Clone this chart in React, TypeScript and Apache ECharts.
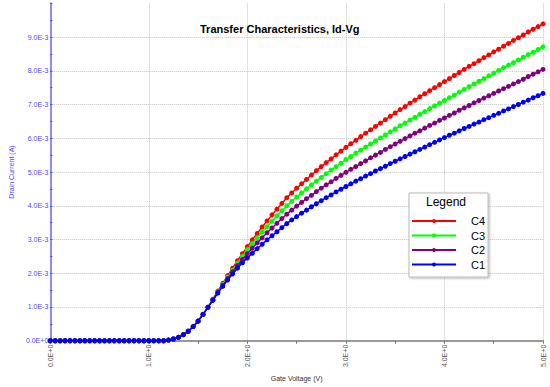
import React, { useEffect, useRef } from "react";
import * as echarts from "echarts";

// Gate voltage (V)
const gateVoltage = [
  0, 0.05, 0.1, 0.15, 0.2, 0.25, 0.3, 0.35, 0.4, 0.45,
  0.5, 0.55, 0.6, 0.65, 0.7, 0.75, 0.8, 0.85, 0.9, 0.95,
  1.0, 1.05, 1.1, 1.15, 1.2, 1.25, 1.3, 1.35, 1.4, 1.45,
  1.5, 1.55, 1.6, 1.65, 1.7, 1.75, 1.8, 1.85, 1.9, 1.95,
  2.0, 2.05, 2.1, 2.15, 2.2, 2.25, 2.3, 2.35, 2.4, 2.45,
  2.5, 2.55, 2.6, 2.65, 2.7, 2.75, 2.8, 2.85, 2.9, 2.95,
  3.0, 3.05, 3.1, 3.15, 3.2, 3.25, 3.3, 3.35, 3.4, 3.45,
  3.5, 3.55, 3.6, 3.65, 3.7, 3.75, 3.8, 3.85, 3.9, 3.95,
  4.0, 4.05, 4.1, 4.15, 4.2, 4.25, 4.3, 4.35, 4.4, 4.45,
  4.5, 4.55, 4.6, 4.65, 4.7, 4.75, 4.8, 4.85, 4.9, 4.95,
  5.0,
];

// Drain current in mA (x1E-3 A)
const c4mA = [
  0, 0, 0, 0, 0, 0, 0, 0, 0, 0, 0, 0, 0, 0, 0, 0, 0, 0, 0, 0, 0, 0, 0, 0,
  0.02, 0.05, 0.1, 0.18, 0.28, 0.42, 0.58, 0.78, 0.99,
  1.23, 1.47, 1.7, 1.93, 2.15, 2.37, 2.58, 2.79,
  2.99, 3.18, 3.37, 3.55, 3.73, 3.9, 4.07, 4.24,
  4.38, 4.52, 4.65, 4.78, 4.91, 5.04, 5.16, 5.28, 5.39, 5.51, 5.62, 5.73,
  5.84, 5.94, 6.05, 6.15, 6.25, 6.35, 6.45, 6.55, 6.65, 6.75,
  6.85, 6.94, 7.04, 7.13, 7.23, 7.32, 7.41, 7.5, 7.59, 7.68,
  7.77, 7.86, 7.95, 8.04, 8.13, 8.21, 8.3, 8.39, 8.47, 8.56,
  8.64, 8.73, 8.81, 8.9, 8.98, 9.06, 9.15, 9.23, 9.31, 9.39,
];
const c3mA = [
  0, 0, 0, 0, 0, 0, 0, 0, 0, 0, 0, 0, 0, 0, 0, 0, 0, 0, 0, 0, 0, 0, 0, 0,
  0.02, 0.05, 0.1, 0.18, 0.28, 0.42, 0.58, 0.78, 0.99,
  1.22, 1.45, 1.67, 1.88, 2.09, 2.3, 2.5, 2.7,
  2.88, 3.05, 3.22, 3.38, 3.54, 3.7, 3.85, 4.0,
  4.13, 4.26, 4.38, 4.5, 4.62, 4.73, 4.84, 4.95, 5.06, 5.16, 5.26, 5.37,
  5.46, 5.56, 5.65, 5.74, 5.83, 5.92, 6.01, 6.1, 6.19, 6.28,
  6.37, 6.45, 6.54, 6.62, 6.71, 6.79, 6.88, 6.96, 7.04, 7.12,
  7.2, 7.28, 7.37, 7.45, 7.53, 7.61, 7.69, 7.77, 7.85, 7.93,
  8.01, 8.09, 8.17, 8.24, 8.32, 8.4, 8.48, 8.55, 8.63, 8.71,
];
const c2mA = [
  0, 0, 0, 0, 0, 0, 0, 0, 0, 0, 0, 0, 0, 0, 0, 0, 0, 0, 0, 0, 0, 0, 0, 0,
  0.02, 0.05, 0.1, 0.18, 0.28, 0.42, 0.58, 0.78, 0.99,
  1.21, 1.43, 1.64, 1.84, 2.04, 2.23, 2.41, 2.58,
  2.74, 2.9, 3.05, 3.2, 3.34, 3.48, 3.62, 3.75,
  3.87, 3.99, 4.1, 4.21, 4.31, 4.42, 4.52, 4.62, 4.71, 4.81, 4.9, 4.99,
  5.08, 5.16, 5.25, 5.33, 5.42, 5.5, 5.58, 5.67, 5.75, 5.83,
  5.91, 5.99, 6.07, 6.15, 6.22, 6.3, 6.38, 6.45, 6.53, 6.6,
  6.68, 6.75, 6.83, 6.9, 6.97, 7.05, 7.12, 7.19, 7.26, 7.33,
  7.4, 7.47, 7.54, 7.61, 7.68, 7.75, 7.83, 7.9, 7.97, 8.04,
];
const c1mA = [
  0, 0, 0, 0, 0, 0, 0, 0, 0, 0, 0, 0, 0, 0, 0, 0, 0, 0, 0, 0, 0, 0, 0, 0,
  0.02, 0.05, 0.1, 0.18, 0.28, 0.42, 0.58, 0.78, 0.99,
  1.2, 1.41, 1.61, 1.8, 1.98, 2.15, 2.31, 2.45,
  2.59, 2.73, 2.86, 2.99, 3.11, 3.23, 3.35, 3.47,
  3.58, 3.68, 3.78, 3.87, 3.97, 4.06, 4.15, 4.24, 4.32, 4.41, 4.49, 4.57,
  4.65, 4.73, 4.8, 4.88, 4.95, 5.03, 5.1, 5.17, 5.25, 5.32,
  5.39, 5.46, 5.53, 5.6, 5.67, 5.74, 5.81, 5.88, 5.95, 6.02,
  6.09, 6.15, 6.22, 6.29, 6.35, 6.42, 6.48, 6.55, 6.61, 6.68,
  6.74, 6.81, 6.87, 6.94, 7.0, 7.07, 7.13, 7.2, 7.26, 7.33,
];

const seriesNames = ["C4", "C3", "C2", "C1"];
const seriesColors = ["#ff0000", "#00ff00", "#800080", "#0000ff"];
const seriesValues = [c4mA, c3mA, c2mA, c1mA];

const titleText = "Transfer Characteristics, Id-Vg";
const xAxisName = "Gate Voltage (V)";
const yAxisName = "Drain Current (A)";
const legendTitle = "Legend";

const FONT = "'Liberation Sans', Arial, sans-serif";

const fmtExp = (v: number) => {
  if (Math.abs(v) < 1e-12) return "0.0E+0";
  return v.toExponential(1).toUpperCase();
};

export default function App() {
  const ref = useRef<HTMLDivElement>(null);

  useEffect(() => {
    if (!ref.current) return;
    const chart = echarts.init(ref.current, null, { renderer: "svg" });
    const series = seriesNames.map((name, k) => ({
      name,
      type: "line",
      data: gateVoltage.map((v, i) => [v, seriesValues[k][i] * 1e-3]),
      symbol: "circle",
      symbolSize: 5,
      showSymbol: true,
      lineStyle: { color: seriesColors[k], width: 1.5 },
      itemStyle: { color: seriesColors[k] },
      z: 3 + k,
    }));

    chart.setOption({
      animation: false,
      backgroundColor: "#ffffff",
      textStyle: { fontFamily: FONT },
      title: {
        text: titleText,
        left: 200,
        top: 23,
        padding: 0,
        textStyle: { fontFamily: FONT, fontSize: 11, fontWeight: "bold", color: "#000" },
      },
      grid: { left: 42, right: 7, top: 3.3, bottom: 41.5, containLabel: false },
      xAxis: {
        type: "value",
        min: 0,
        max: 5,
        interval: 1,
        name: xAxisName,
        nameLocation: "middle",
        nameGap: 31,
        nameTextStyle: { fontFamily: FONT, fontSize: 7, color: "#333" },
        axisLine: { show: true, lineStyle: { color: "#999", width: 2 } },
        axisTick: { show: true, length: 3, lineStyle: { color: "#777" } },
        minorTick: { show: true, splitNumber: 2, length: 3, lineStyle: { color: "#777" } },
        axisLabel: {
          rotate: 90,
          margin: 4,
          fontSize: 7,
          color: "#555",
          fontFamily: FONT,
          formatter: (v: number) => fmtExp(v),
        },
        splitLine: {
          show: true,
          showMinLine: false,
          lineStyle: { color: "#c4c4c4", type: "dotted", width: 1 },
        },
      },
      yAxis: {
        type: "value",
        min: 0,
        max: 0.01,
        interval: 0.001,
        name: yAxisName,
        nameLocation: "middle",
        nameGap: 30,
        nameTextStyle: { fontFamily: FONT, fontSize: 7, color: "#4a4aff" },
        axisLine: { show: true, lineStyle: { color: "#8c8cff", width: 2 } },
        axisTick: { show: true, inside: true, length: 2, lineStyle: { color: "#4444ff" } },
        minorTick: { show: true, splitNumber: 2, length: 2, lineStyle: { color: "#4444ff" } },
        axisLabel: {
          showMaxLabel: false,
          margin: 2,
          fontSize: 7,
          color: "#4a4aff",
          fontFamily: FONT,
          formatter: (v: number) => fmtExp(v),
        },
        splitLine: {
          show: true,
          showMinLine: false,
          showMaxLine: false,
          lineStyle: { color: "#c4c4c4", type: "dotted", width: 1 },
        },
      },
      legend: {
        data: seriesNames,
        orient: "vertical",
        left: 409,
        top: 193,
        padding: [21, 3, 5.5, 2],
        itemWidth: 44,
        itemHeight: 5,
        itemGap: 0.5,
        backgroundColor: "#ffffff",
        borderColor: "#bbbbbb",
        borderWidth: 1,
        shadowBlur: 2,
        shadowColor: "rgba(0,0,0,0.3)",
        shadowOffsetX: 1,
        shadowOffsetY: 1,
        textStyle: {
          fontFamily: FONT,
          fontSize: 11,
          color: "#000",
          lineHeight: 14,
          padding: [0, 0, 0, 10],
        },
      },
      graphic: [
        {
          type: "text",
          left: 426,
          top: 196,
          z: 100,
          style: {
            text: legendTitle,
            fontFamily: FONT,
            fontSize: 12,
            fill: "#000",
          },
        },
      ],
      series,
    });

    return () => {
      chart.dispose();
    };
  }, []);

  return (
    <div
      ref={ref}
      style={{ position: "fixed", left: 0, top: 0, width: 550, height: 387, background: "#fff" }}
    />
  );
}
